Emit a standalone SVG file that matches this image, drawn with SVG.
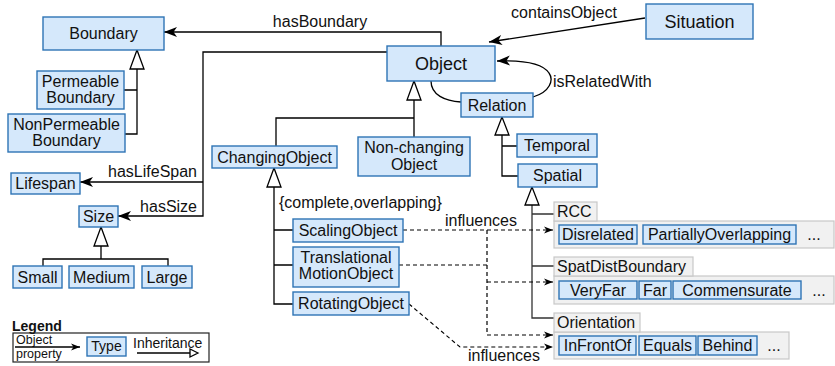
<svg xmlns="http://www.w3.org/2000/svg" width="835" height="366" viewBox="0 0 835 366">
<style>
text{font-family:"Liberation Sans",Arial,sans-serif;font-size:16px;fill:#111}
.n{fill:#d5e8fb;stroke:#2e74b5;stroke-width:1.4}
.g{fill:#f1f1f1;stroke:#c8c8c8;stroke-width:1.2}
.c{text-anchor:middle}
.big{font-size:18px}
.sm{font-size:14px}
.xs{font-size:12.5px}
.ln{fill:none;stroke:#000;stroke-width:1.3}
.gl{fill:none;stroke:#333;stroke-width:1.3}
.d{fill:none;stroke:#000;stroke-width:1.2;stroke-dasharray:4 3}
.tri{fill:#fff;stroke:#000;stroke-width:1.3}
</style>
<defs>
<marker id="a" markerUnits="userSpaceOnUse" markerWidth="14" markerHeight="12" refX="13" refY="5" orient="auto" overflow="visible">
<path d="M13,5 L0,0 L3.5,5 L0,10 Z" fill="#000"/>
</marker>
<marker id="s" markerUnits="userSpaceOnUse" markerWidth="10" markerHeight="8" refX="9" refY="3.5" orient="auto" overflow="visible">
<path d="M9,3.5 L0,0 L2.5,3.5 L0,7 Z" fill="#000"/>
</marker>
</defs>

<g id="connectors">
<path class="ln" d="M441,46 V32 H164" marker-end="url(#a)"/>
<path class="ln" d="M387,52 H203 V216 H118" marker-end="url(#a)"/>
<path class="ln" d="M203,182 H80" marker-end="url(#a)"/>
<path class="ln" d="M645,18 L489,42" marker-end="url(#a)"/>
<path class="ln" d="M533,97 C550,92 554,80 549,73 C543,64 525,60 497,61" marker-end="url(#a)"/>
<path class="ln" d="M431,81 C431,95 445,101 461,102"/>
<text x="320" y="27" class="c">hasBoundary</text>
<text x="197" y="177" text-anchor="end">hasLifeSpan</text>
<text x="197" y="212" text-anchor="end">hasSize</text>
<text x="564" y="18" class="c">containsObject</text>
<text x="553" y="87">isRelatedWith</text>

<path class="ln" d="M137,69 V134 H125 M137,90 H124"/>
<polygon class="tri" points="137,50 130,69 144,69"/>
<path class="ln" d="M414,100 V137 M414,118 H276 V146"/>
<polygon class="tri" points="414,81 407,100 421,100"/>
<path class="ln" d="M502,135 V176 H518 M502,146 H517"/>
<polygon class="tri" points="502,117 495,135 509,135"/>
<path class="gl" d="M532,205 V318 H554 M532,214 H554 M532,266 H554"/>
<polygon class="tri" points="532,187 525,205 539,205"/>
<path class="ln" d="M274,187 V304 H293 M274,230 H293 M274,265 H293"/>
<polygon class="tri" points="274,168 267,187 281,187"/>
<text x="279" y="208">{complete,overlapping}</text>
<path class="ln" d="M101,246 V259 M43,266 V259 H168 V266"/>
<polygon class="tri" points="101,227 94,246 108,246"/>

<path class="d" d="M403,230 H553" marker-end="url(#s)"/>
<path class="d" d="M487,230 V335 H553" marker-end="url(#s)"/>
<path class="d" d="M487,282 H553" marker-end="url(#s)"/>
<path class="d" d="M399,265 H487"/>
<path class="d" d="M409,304 L460,347 H553" marker-end="url(#s)"/>
<text x="481" y="226" class="c">influences</text>
<text x="504" y="361" class="c">influences</text>
</g>

<g id="Boundary"><rect class="n" x="43" y="17" width="121" height="33"/><text x="103.5" y="39" class="c">Boundary</text></g>
<g id="PermeableBoundary"><rect class="n" x="37" y="71" width="87" height="38"/><text x="80.5" y="87" class="c">Permeable</text><text x="80.5" y="103" class="c">Boundary</text></g>
<g id="NonPermeableBoundary"><rect class="n" x="8" y="114" width="117" height="38"/><text x="66.5" y="130" class="c">NonPermeable</text><text x="66.5" y="146" class="c">Boundary</text></g>
<g id="Object"><rect class="n" x="387" y="46" width="108" height="35"/><text x="441" y="70" class="c big">Object</text></g>
<g id="Situation"><rect class="n" x="646" y="4" width="107" height="35"/><text x="699.5" y="28" class="c big">Situation</text></g>
<g id="Relation"><rect class="n" x="461" y="93" width="72" height="24"/><text x="497" y="111" class="c">Relation</text></g>
<g id="Temporal"><rect class="n" x="517" y="134" width="80" height="23"/><text x="557" y="151" class="c">Temporal</text></g>
<g id="Spatial"><rect class="n" x="518" y="164" width="79" height="23"/><text x="557.5" y="181" class="c">Spatial</text></g>
<g id="ChangingObject"><rect class="n" x="212" y="146" width="125" height="22"/><text x="274.5" y="163" class="c">ChangingObject</text></g>
<g id="NonChangingObject"><rect class="n" x="358" y="137" width="112" height="39"/><text x="414" y="153" class="c">Non-changing</text><text x="414" y="170" class="c">Object</text></g>
<g id="Lifespan"><rect class="n" x="11" y="173" width="69" height="21"/><text x="45.5" y="189" class="c">Lifespan</text></g>
<g id="Size"><rect class="n" x="79" y="206" width="39" height="21"/><text x="98.5" y="222" class="c">Size</text></g>
<g id="Small"><rect class="n" x="13" y="266" width="49" height="22"/><text x="37.5" y="283" class="c">Small</text></g>
<g id="Medium"><rect class="n" x="69" y="266" width="65" height="22"/><text x="101.5" y="283" class="c">Medium</text></g>
<g id="Large"><rect class="n" x="142" y="266" width="50" height="22"/><text x="167" y="283" class="c">Large</text></g>
<g id="ScalingObject"><rect class="n" x="293" y="219" width="110" height="23"/><text x="348" y="236" class="c">ScalingObject</text></g>
<g id="TranslationalMotionObject"><rect class="n" x="293" y="247" width="106" height="40"/><text x="346" y="263" class="c">Translational</text><text x="346" y="279" class="c">MotionObject</text></g>
<g id="RotatingObject"><rect class="n" x="293" y="292" width="116" height="23"/><text x="351" y="309" class="c">RotatingObject</text></g>

<g id="RCC">
<rect class="g" x="554" y="221" width="280" height="27"/>
<rect class="g" x="554" y="202" width="43" height="19"/><text x="557" y="217">RCC</text>
<rect class="n" x="559" y="225" width="78" height="19"/><text x="598" y="240" class="c">Disrelated</text>
<rect class="n" x="643" y="225" width="153" height="19"/><text x="719.5" y="240" class="c">PartiallyOverlapping</text>
<text x="814" y="240" class="c">...</text>
</g>
<g id="SpatDistBoundary">
<rect class="g" x="554" y="276" width="280" height="28"/>
<rect class="g" x="554" y="257" width="139" height="19"/><text x="557" y="272">SpatDistBoundary</text>
<rect class="n" x="559" y="281" width="78" height="18"/><text x="598" y="296" class="c">VeryFar</text>
<rect class="n" x="639" y="281" width="32" height="18"/><text x="655" y="296" class="c">Far</text>
<rect class="n" x="673" y="281" width="128" height="18"/><text x="737" y="296" class="c">Commensurate</text>
<text x="819" y="296" class="c">...</text>
</g>
<g id="Orientation">
<rect class="g" x="554" y="332" width="235" height="27"/>
<rect class="g" x="554" y="313" width="86" height="19"/><text x="557" y="328">Orientation</text>
<rect class="n" x="559" y="336" width="77" height="19"/><text x="597.5" y="351" class="c">InFrontOf</text>
<rect class="n" x="639" y="336" width="57" height="19"/><text x="667.5" y="351" class="c">Equals</text>
<rect class="n" x="698" y="336" width="59" height="19"/><text x="727.5" y="351" class="c">Behind</text>
<text x="774" y="351" class="c">...</text>
</g>

<g id="Legend">
<text x="12" y="331" class="sm" font-weight="bold">Legend</text>
<rect x="13" y="333" width="196" height="29" fill="none" stroke="#222" stroke-width="1.2"/>
<text x="16" y="344" class="xs">Object</text>
<text x="16" y="358" class="xs">property</text>
<path class="ln" d="M15,347 H80" marker-end="url(#s)"/>
<rect class="n" x="87" y="337" width="39" height="19"/><text x="106.5" y="351" class="c sm">Type</text>
<text x="133" y="348" class="sm">Inheritance</text>
<path class="ln" d="M137,353 H190"/>
<polygon class="tri" points="198,353 190,349 190,357"/>
</g>
</svg>
